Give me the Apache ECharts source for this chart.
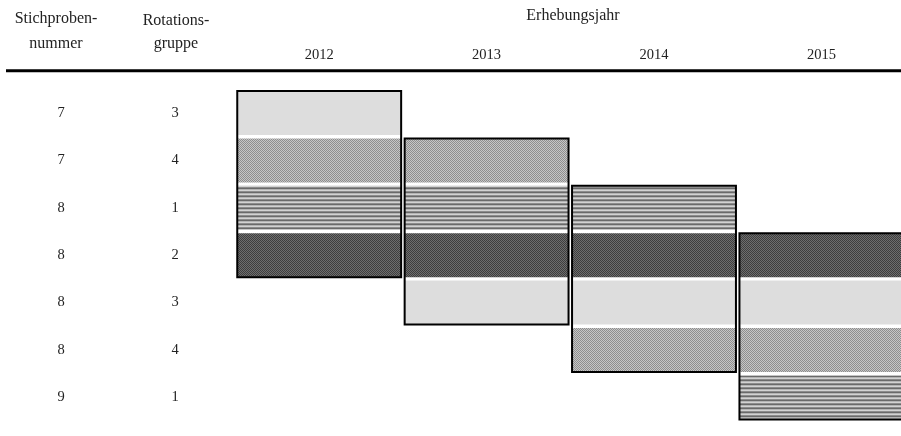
<!DOCTYPE html>
<html><head><meta charset="utf-8">
<script src="https://cdn.jsdelivr.net/npm/echarts@6/dist/echarts.min.js"></script>
<style>html,body{margin:0;padding:0;background:#fff;overflow:hidden}#c{width:910px;height:436px}</style>
</head><body><div id="c"></div>
<script>
// ---- data ----
const years = ['2012', '2013', '2014', '2015'];
const sampleNumbers = ['7', '7', '8', '8', '8', '8', '9'];
const rotationGroups = ['3', '4', '1', '2', '3', '4', '1'];
// rows (index into the lists above) surveyed in each year
const rows2012 = [0, 1, 2, 3];
const rows2013 = [1, 2, 3, 4];
const rows2014 = [2, 3, 4, 5];
const rows2015 = [3, 4, 5, 6];
const yearRows = [rows2012, rows2013, rows2014, rows2015];

// ---- patterns (style only) ----
function makePattern(w, h, draw) {
  const cv = document.createElement('canvas');
  cv.width = w; cv.height = h;
  const ctx = cv.getContext('2d');
  draw(ctx);
  return { image: cv, repeat: 'repeat' };
}
function px(ctx, x, y, c) { ctx.fillStyle = c; ctx.fillRect(x, y, 1, 1); }
const patterns = {
  '3': '#dddddd',
  '4': makePattern(2, 2, ctx => { px(ctx,0,0,'#8e8e8e'); px(ctx,1,1,'#8e8e8e'); px(ctx,1,0,'#c6c6c6'); px(ctx,0,1,'#c6c6c6'); }),
  '1': makePattern(4, 4, ctx => {
    const cols = ['#6a6a6a', '#b4b4b4', '#d2d2d2', '#8c8c8c'];
    cols.forEach((c, i) => { ctx.fillStyle = c; ctx.fillRect(0, i, 4, 1); });
  }),
  '2': makePattern(2, 2, ctx => { px(ctx,0,0,'#3e3e3e'); px(ctx,1,1,'#3e3e3e'); px(ctx,1,0,'#6e6e6e'); px(ctx,0,1,'#6e6e6e'); })
};

const cellData = [];
yearRows.forEach((rows, yi) => rows.forEach(r => cellData.push([yi, r])));
const boxData = yearRows.map((rows, yi) => [yi, rows[0], rows[rows.length - 1]]);

const FONT = 'Liberation Serif';
const HFONT = '16px "Liberation Serif"';
const GAP_X = 3.5, GAP_Y = 3.4;

function headerText(text, x, y) {
  return { type: 'text', x: x, y: y, style: { text: text, font: HFONT, fill: '#222', textAlign: 'center', textVerticalAlign: 'middle' } };
}

const chart = echarts.init(document.getElementById('c'), null, { renderer: 'canvas' });
chart.setOption({
  animation: false,
  grid: { left: 235.5, top: 89.3, width: 669.6, height: 331.8, containLabel: false },
  xAxis: {
    type: 'category', data: years, position: 'top',
    axisLine: { show: false }, axisTick: { show: false }, splitLine: { show: false },
    axisLabel: { fontFamily: FONT, fontSize: 14.5, color: '#222', margin: 27 }
  },
  yAxis: [
    {
      type: 'category', data: rotationGroups, inverse: true,
      axisLine: { show: false }, axisTick: { show: false }, splitLine: { show: false },
      axisLabel: { fontFamily: FONT, fontSize: 14.5, color: '#222', align: 'center', margin: 60.5 }
    },
    {
      type: 'category', data: sampleNumbers, inverse: true, position: 'left',
      axisLine: { show: false }, axisTick: { show: false }, splitLine: { show: false },
      axisLabel: { fontFamily: FONT, fontSize: 14.5, color: '#222', align: 'center', margin: 174.5 }
    }
  ],
  graphic: [
    headerText('Stichproben-', 56, 19),
    headerText('nummer', 56, 44),
    headerText('Rotations-', 176, 21),
    headerText('gruppe', 176, 44),
    headerText('Erhebungsjahr', 573, 16),
    { type: 'line', shape: { x1: 6, y1: 70.7, x2: 910, y2: 70.7 }, style: { stroke: '#000', lineWidth: 3 } }
  ],
  series: [
    {
      type: 'custom', coordinateSystem: 'cartesian2d', xAxisIndex: 0, yAxisIndex: 0,
      data: cellData,
      renderItem(params, api) {
        const c = api.coord([api.value(0), api.value(1)]);
        const s = api.size([1, 1]);
        const w = s[0] - GAP_X, h = s[1] - GAP_Y;
        return { type: 'rect', shape: { x: c[0] - w / 2, y: c[1] - h / 2, width: w, height: h },
                 style: { fill: patterns[rotationGroups[api.value(1)]] } };
      }
    },
    {
      type: 'custom', coordinateSystem: 'cartesian2d', xAxisIndex: 0, yAxisIndex: 0,
      data: boxData, z: 5,
      renderItem(params, api) {
        const a = api.coord([api.value(0), api.value(1)]);
        const b = api.coord([api.value(0), api.value(2)]);
        const s = api.size([1, 1]);
        const w = s[0] - GAP_X, h = s[1] - GAP_Y;
        return { type: 'rect', shape: { x: a[0] - w / 2, y: a[1] - h / 2, width: w, height: b[1] - a[1] + h },
                 style: { fill: 'none', stroke: '#000', lineWidth: 2 } };
      }
    }
  ]
});
</script></body></html>
